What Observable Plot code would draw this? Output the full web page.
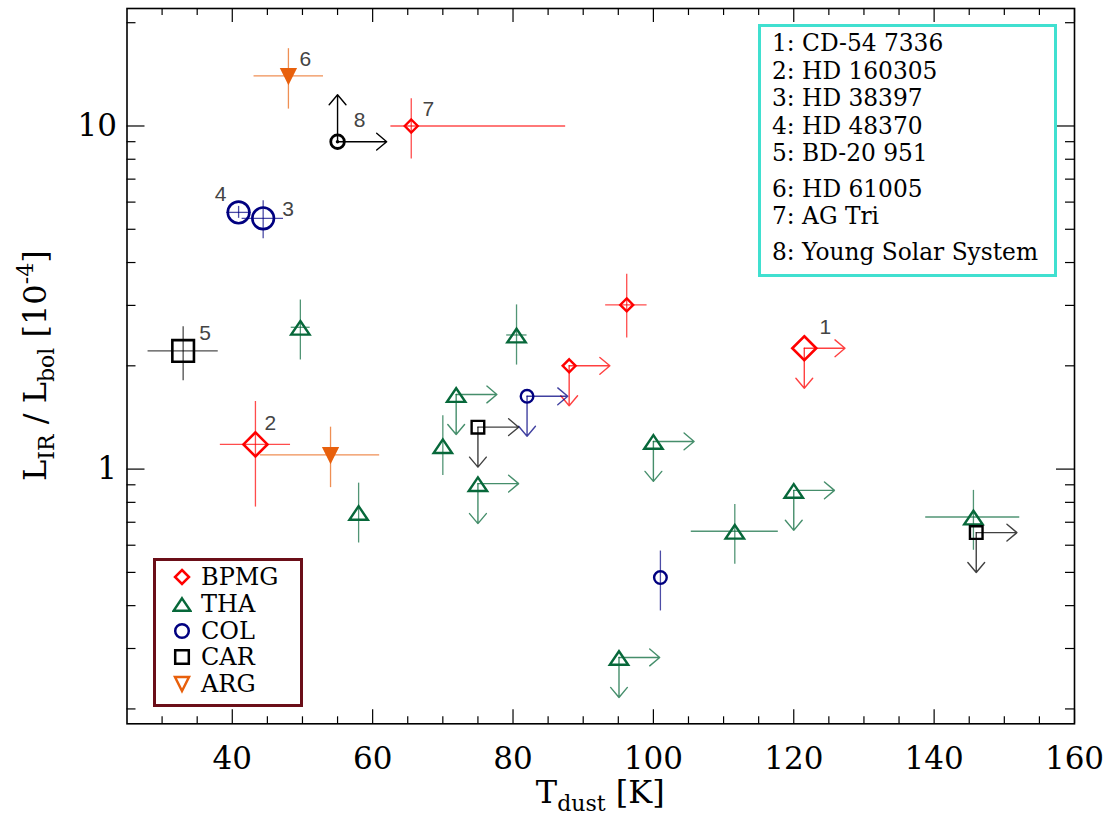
<!DOCTYPE html>
<html>
<head>
<meta charset="utf-8">
<script src="https://cdn.jsdelivr.net/npm/d3@7"></script>
<script src="https://cdn.jsdelivr.net/npm/@observablehq/plot@0.6"></script>
<style>
  body { margin: 0; background: #fff; }
  #wrap { position: relative; width: 1109px; height: 822px; background: #fff; }
  .box { position: absolute; box-sizing: border-box; background: #fff; font-family: "DejaVu Serif", serif; color: #000; }
  #groupLegend { left: 153px; top: 558px; width: 150px; height: 149px; border: 3.5px solid #6b0e18; padding-top: 3px; }
  #groupLegend .row { display: flex; align-items: center; height: 26.7px; font-size: 24px; }
  #groupLegend svg { margin-left: 16px; margin-right: 9px; flex: none; }
  #nameLegend { left: 758px; top: 24px; width: 299px; height: 253px; border: 3.5px solid #40e0d0; padding-left: 11px; padding-top: 2px; }
  #nameLegend .name { font-size: 23.3px; line-height: 27.5px; white-space: nowrap; }
  #nameLegend .name:nth-child(6), #nameLegend .name:nth-child(8) { margin-top: 8px; }
</style>
</head>
<body>
<div id="wrap"></div>
<script>
// ---------------- data ----------------
const group   = ["BPMG","BPMG","BPMG","BPMG","BPMG",
                 "THA","THA","THA","THA","THA","THA","THA","THA","THA","THA","THA",
                 "COL","COL","COL","COL",
                 "CAR","CAR","CAR",
                 "ARG","ARG",
                 "Sun"];
const tdust   = [121.5, 43.3, 65.5, 88.0, 96.2,
                 49.7, 80.5, 71.9, 70.0, 75.0, 58.0, 100.0, 111.6, 120.0, 145.6, 95.1,
                 44.4, 40.9, 82.0, 101.0,
                 33.0, 75.0, 146.0,
                 48.0, 54.0,
                 55.0];
const tdustLo = [null, 38.3, 62.6, null, 93.2,
                 48.4, 79.1, null, null, null, null, null, 105.4, null, 138.8, null,
                 41.4, 39.2, null, null,
                 28.0, null, null,
                 43.1, 44.0,
                 null];
const tdustHi = [null, 48.3, 87.5, null, 99.1,
                 51.1, 82.0, null, null, null, null, null, 117.8, null, 152.2, null,
                 47.3, 42.7, null, null,
                 38.0, null, null,
                 53.0, 61.0,
                 null];
const lir     = [2.25, 1.18, 10.0, 2.0, 3.01,
                 2.59, 2.46, 1.65, 1.17, 0.907, 0.748, 1.204, 0.659, 0.867, 0.725, 0.2825,
                 5.38, 5.60, 1.63, 0.483,
                 2.21, 1.325, 0.653,
                 14.0, 1.10,
                 9.0];
const lirLo   = [null, 0.775, 8.01, null, 2.41,
                 2.08, 2.01, null, 0.958, null, 0.609, null, 0.528, null, 0.58, null,
                 4.69, 5.38, null, 0.386,
                 1.81, null, null,
                 11.2, 0.883,
                 null];
const lirHi   = [null, 1.574, 12.0, null, 3.7,
                 3.11, 3.01, null, 1.43, null, 0.91, null, 0.789, null, 0.867, null,
                 6.06, 5.83, null, 0.577,
                 2.60, null, null,
                 16.8, 1.325,
                 null];
// limits: T lower limit -> arrow right; L upper limit -> arrow down, L lower limit -> arrow up
const tLimit  = ["lower", null, null, "lower", null,
                 null, null, "lower", null, "lower", null, "lower", null, "lower", null, "lower",
                 null, null, "lower", null,
                 null, "lower", "lower",
                 null, null,
                 "lower"];
const lLimit  = ["upper", null, null, "upper", null,
                 null, null, "upper", null, "upper", null, "upper", null, "upper", null, "upper",
                 null, null, "upper", null,
                 null, "upper", "upper",
                 null, null,
                 "lower"];
const starId  = [1, 2, 7, null, null,
                 null, null, null, null, null, null, null, null, null, null, null,
                 3, 4, null, null,
                 5, null, null,
                 6, null,
                 8];
const starNames  = ["CD-54 7336", "HD 160305", "HD 38397", "HD 48370", "BD-20 951",
                    "HD 61005", "AG Tri", "Young Solar System"];
const groupNames = ["BPMG", "THA", "COL", "CAR", "ARG"];
const xTicksMajor = [40, 60, 80, 100, 120, 140, 160];
const xTicksMinor = [30, 35, 45, 50, 55, 65, 70, 75, 85, 90, 95, 105, 110, 115, 125, 130, 135, 145, 150, 155];
const yTicksMajor = [1, 10];
const yTicksMinor = [0.2, 0.3, 0.4, 0.5, 0.6, 0.7, 0.8, 0.9, 2, 3, 4, 5, 6, 7, 8, 9, 20];
const xDomain = [25, 160];
const yDomain = [0.181, 22];

// ---------------- styles ----------------
const W = 1109, H = 822;
const M = {left: 126.5, right: 35, top: 8, bottom: 98.7};
const FW = W - M.left - M.right, FH = H - M.top - M.bottom;

function makeSym(fn) { return {draw(c, size) { const r = Math.sqrt(size / Math.PI); fn(c, r); }}; }
const symDiamond = makeSym((c, r) => { c.moveTo(0, -r); c.lineTo(r, 0); c.lineTo(0, r); c.lineTo(-r, 0); c.closePath(); });
const symTriUp   = makeSym((c, r) => { c.moveTo(0, -0.68 * r); c.lineTo(r, 0.8 * r); c.lineTo(-r, 0.8 * r); c.closePath(); });
const symTriDown = makeSym((c, r) => { c.moveTo(-r, -r); c.lineTo(r, -r); c.lineTo(0, r); c.closePath(); });
const symSquare  = makeSym((c, r) => { c.rect(-r, -r, 2 * r, 2 * r); });
const symCircle  = makeSym((c, r) => { c.moveTo(r, 0); c.arc(0, 0, r, 0, 2 * Math.PI); });

const gStyle = {
  BPMG: {color: "#ff0000", symbol: symDiamond, rBig: 12, rSmall: 6.5, filled: false},
  THA:  {color: "#07683a", symbol: symTriUp,   rBig: 9.2, rSmall: 9.2, filled: false},
  COL:  {color: "#000080", symbol: symCircle,  rBig: 10.8, rSmall: 6.3, filled: false},
  CAR:  {color: "#000000", symbol: symSquare,  rBig: 10.8, rSmall: 6.3, filled: false},
  ARG:  {color: "#e8600c", symbol: symTriDown, rBig: 6.7, rSmall: 6.7, filled: true},
  Sun:  {color: "#000000", symbol: symCircle,  rBig: 6.8, rSmall: 6.8, filled: false}
};
const bigIds = [1, 2, 3, 4, 5];
const labelOffset = {1: [21, -21], 2: [15, -21], 3: [25, -9], 4: [-18, -18],
                     5: [22, -18], 6: [17, -17], 7: [17, -17], 8: [22, -21]};
const arrowRightK = 5.8, arrowDownF = Math.pow(10, -40 / 343.4);
const sunRightK = 7.0, sunUpF = Math.pow(10, 47 / 343.4);

const rows = tdust.map((t, i) => ({
  T: t, L: lir[i], group: group[i], Tlo: tdustLo[i], Thi: tdustHi[i],
  Llo: lirLo[i], Lhi: lirHi[i], tLim: tLimit[i], lLim: lLimit[i], id: starId[i]
}));

const marks = [];
// ticks (inward, IDL style, on all four sides)
marks.push(Plot.ruleX(xTicksMajor, {x: d => d, insetTop: FH - 14, stroke: "#000", strokeWidth: 1.2}));
marks.push(Plot.ruleX(xTicksMinor, {x: d => d, insetTop: FH - 7, stroke: "#000", strokeWidth: 1.2}));
marks.push(Plot.ruleX(xTicksMajor, {x: d => d, insetBottom: FH - 14, stroke: "#000", strokeWidth: 1.2}));
marks.push(Plot.ruleX(xTicksMinor, {x: d => d, insetBottom: FH - 7, stroke: "#000", strokeWidth: 1.2}));
marks.push(Plot.ruleY(yTicksMajor, {y: d => d, insetRight: FW - 18, stroke: "#000", strokeWidth: 1.2}));
marks.push(Plot.ruleY(yTicksMinor, {y: d => d, insetRight: FW - 9, stroke: "#000", strokeWidth: 1.2}));
marks.push(Plot.ruleY(yTicksMajor, {y: d => d, insetLeft: FW - 18, stroke: "#000", strokeWidth: 1.2}));
marks.push(Plot.ruleY(yTicksMinor, {y: d => d, insetLeft: FW - 9, stroke: "#000", strokeWidth: 1.2}));

const groupsAll = ["BPMG", "THA", "COL", "CAR", "ARG", "Sun"];
for (const g of groupsAll) {
  const st = gStyle[g];
  const data = rows.filter(d => d.group === g);
  marks.push(Plot.ruleY(data.filter(d => d.Tlo != null), {y: "L", x1: "Tlo", x2: "Thi", stroke: st.color, strokeOpacity: 0.7, strokeWidth: 1.3}));
  marks.push(Plot.ruleX(data.filter(d => d.Llo != null), {x: "T", y1: "Llo", y2: "Lhi", stroke: st.color, strokeOpacity: 0.7, strokeWidth: 1.3}));
  const kR = g === "Sun" ? sunRightK : arrowRightK;
  marks.push(Plot.arrow(data.filter(d => d.tLim === "lower"), {
    x1: "T", y1: "L", x2: d => d.T + kR, y2: "L",
    stroke: st.color, strokeOpacity: g === "Sun" ? 1 : 0.75, strokeWidth: 1.4, headAngle: 80, headLength: 14
  }));
  marks.push(Plot.arrow(data.filter(d => d.lLim), {
    x1: "T", y1: "L", x2: "T", y2: d => d.lLim === "upper" ? d.L * arrowDownF : d.L * sunUpF,
    stroke: st.color, strokeOpacity: g === "Sun" ? 1 : 0.75, strokeWidth: 1.4, headAngle: 80, headLength: 14
  }));
}
for (const g of groupsAll) {
  const st = gStyle[g];
  const data = rows.filter(d => d.group === g);
  const big = data.filter(d => bigIds.includes(d.id));
  const small = data.filter(d => !bigIds.includes(d.id));
  const common = {x: "T", y: "L", symbol: st.symbol, stroke: st.color, strokeWidth: 2.6,
                  fill: st.filled ? st.color : "none"};
  if (big.length) marks.push(Plot.dot(big, {...common, r: st.rBig}));
  if (small.length) marks.push(Plot.dot(small, {...common, r: st.rSmall, strokeWidth: g === "Sun" ? 2.8 : 2.4}));
  if (g === "Sun") marks.push(Plot.dot(data, {x: "T", y: "L", r: 1.8, fill: "#000", stroke: null}));
}
for (const k of Object.keys(labelOffset)) {
  const id = +k;
  marks.push(Plot.text(rows.filter(d => d.id === id), {
    x: "T", y: "L", text: d => String(d.id), dx: labelOffset[k][0], dy: labelOffset[k][1],
    fontFamily: "Liberation Sans, Arial, sans-serif", fontSize: 21, fill: "#444"
  }));
}
marks.push(Plot.frame({stroke: "#000", strokeWidth: 1.6}));

const chart = Plot.plot({
  width: W, height: H,
  marginLeft: M.left, marginRight: M.right, marginTop: M.top, marginBottom: M.bottom,
  style: {fontFamily: "DejaVu Serif, serif", fontSize: "31px", color: "#000", background: "#fff"},
  x: {domain: xDomain, ticks: xTicksMajor, tickSize: 0, tickPadding: 23, tickFormat: d => String(d), label: null},
  y: {type: "log", domain: yDomain, ticks: yTicksMajor, tickSize: 0, tickPadding: 10, tickFormat: d => String(d), label: null},
  marks
});
const wrap = document.getElementById("wrap");
wrap.appendChild(chart);
const svg = chart.tagName.toLowerCase() === "svg" ? chart : chart.querySelector("svg");
const S = d3.select(svg);

// axis titles with sub/superscripts
const xl = S.append("text").attr("x", M.left + FW / 2).attr("y", 803)
  .attr("text-anchor", "middle").attr("font-family", "DejaVu Serif, serif").attr("font-size", 32).attr("fill", "#000");
xl.append("tspan").text("T");
xl.append("tspan").attr("font-size", 22).attr("dy", 8).text("dust");
xl.append("tspan").attr("dy", -8).text(" [K]");

const yl = S.append("text").attr("transform", `translate(46,${M.top + FH / 2}) rotate(-90)`)
  .attr("text-anchor", "middle").attr("font-family", "DejaVu Serif, serif").attr("font-size", 32).attr("fill", "#000");
yl.append("tspan").text("L");
yl.append("tspan").attr("font-size", 22).attr("dy", 8).text("IR");
yl.append("tspan").attr("dy", -8).text(" / L");
yl.append("tspan").attr("font-size", 22).attr("dy", 8).text("bol");
yl.append("tspan").attr("dy", -8).text(" [10");
yl.append("tspan").attr("font-size", 22).attr("dy", -13).text("-4");
yl.append("tspan").attr("dy", 13).text("]");

// group legend
const gl = d3.select(wrap).append("div").attr("class", "box").attr("id", "groupLegend");
for (const g of groupNames) {
  const st = gStyle[g];
  const row = gl.append("div").attr("class", "row");
  const s = row.append("svg").attr("width", 20).attr("height", 20);
  const p = d3.path();
  st.symbol.draw(p, (g === "BPMG" ? 7 : g === "THA" ? 8.3 : g === "ARG" ? 7 : 6.8) ** 2 * Math.PI);
  s.append("path").attr("d", p.toString()).attr("transform", "translate(10,10)")
    .attr("fill", "none").attr("stroke", st.color).attr("stroke-width", 2.5);
  row.append("span").text(g);
}
// star names legend
const nl = d3.select(wrap).append("div").attr("class", "box").attr("id", "nameLegend");
starNames.forEach((n, i) => nl.append("div").attr("class", "name").text(`${i + 1}: ${n}`));
</script>
</body>
</html>
